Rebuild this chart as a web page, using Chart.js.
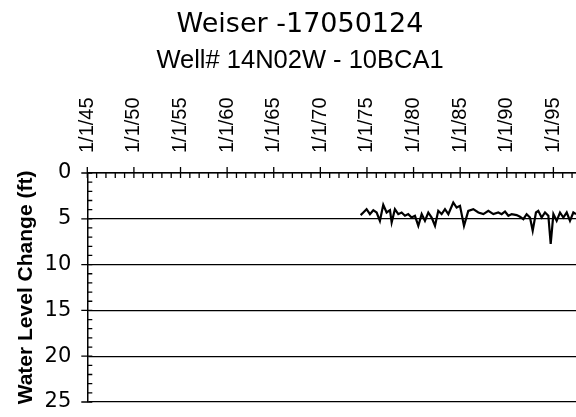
<!DOCTYPE html>
<html>
<head>
<meta charset="utf-8">
<script src="https://cdn.jsdelivr.net/npm/chart.js@4/dist/chart.umd.min.js"></script>
<style>
  html, body { margin: 0; padding: 0; background: #fff; overflow: hidden; }
  #wrap { width: 620px; height: 417px; }
</style>
</head>
<body>
<div id="wrap"><canvas id="grafico" width="620" height="417"></canvas></div>
<script>
// water level readings (decimal year, depth change in ft)
const years = [1974.32, 1974.61, 1974.96, 1975.32, 1975.68, 1976.04, 1976.39, 1976.75, 1977.11, 1977.47,
    1977.65, 1978.0, 1978.36, 1978.72, 1979.08, 1979.43, 1979.79, 1980.15, 1980.51, 1980.87,
    1981.22, 1981.58, 1981.94, 1982.30, 1982.65, 1983.01, 1983.37, 1983.73, 1984.26, 1984.62,
    1984.98, 1985.41, 1985.87, 1986.41, 1986.95, 1987.49, 1988.02, 1988.56, 1989.09, 1989.45,
    1989.81, 1990.17, 1990.53, 1991.06, 1991.42, 1991.78, 1992.13, 1992.49, 1992.78, 1993.13,
    1993.38, 1993.74, 1994.10, 1994.46, 1994.71, 1995.0, 1995.35, 1995.71, 1996.07, 1996.43,
    1996.78, 1997.14, 1997.43];
const levels = [4.60, 4.31, 3.95, 4.49, 4.06, 4.31, 5.22, 3.48, 4.31, 4.06,
    5.40, 3.95, 4.49, 4.31, 4.67, 4.49, 4.86, 4.67, 5.76, 4.49,
    5.22, 4.31, 4.86, 5.76, 4.13, 4.49, 3.95, 4.49, 3.22, 3.77,
    3.59, 5.76, 4.13, 3.95, 4.31, 4.49, 4.13, 4.49, 4.31, 4.49,
    4.20, 4.67, 4.49, 4.60, 4.78, 5.04, 4.49, 4.86, 6.30, 4.31,
    4.13, 4.86, 4.31, 4.67, 7.75, 4.49, 5.22, 4.31, 4.86, 4.31,
    5.22, 4.31, 4.49];

// axis ranges and tick labels
const xMin = 1945, xMax = 2000, xStep = 5;
const yMin = 0, yMax = 25, yStep = 5;
const tickYears = [1945, 1950, 1955, 1960, 1965, 1970, 1975, 1980, 1985, 1990, 1995, 2000];
const tickLabels = ["1/1/45", "1/1/50", "1/1/55", "1/1/60", "1/1/65", "1/1/70", "1/1/75", "1/1/80", "1/1/85", "1/1/90", "1/1/95", "1/1/00"];

const titulo = "Weiser -17050124";
const subtitulo = "Well# 14N02W - 10BCA1";
const yTitulo = "Water Level Change (ft)";

// tick marks: majors cross the axis, minors point inside
const marcas = {
    id: "marcas",
    afterDraw(chart) {
        const ctx = chart.ctx;
        const x = chart.scales.x, y = chart.scales.y;
        const top = chart.chartArea.top, left = chart.chartArea.left;
        ctx.save();
        ctx.strokeStyle = "#000";
        ctx.lineWidth = 1.3;
        ctx.beginPath();
        for (let yr = xMin; yr <= xMax; yr++) {
            const px = x.getPixelForValue(yr);
            const major = yr % xStep === 0;
            ctx.moveTo(px, major ? top - 6 : top);
            ctx.lineTo(px, top + 5);
        }
        for (let v = yMin; v <= yMax; v++) {
            const py = y.getPixelForValue(v);
            const major = v % yStep === 0;
            ctx.moveTo(major ? left - 6 : left, py);
            ctx.lineTo(left + 5, py);
        }
        ctx.stroke();
        ctx.restore();
    }
};

const ctx = document.getElementById("grafico").getContext("2d");
new Chart(ctx, {
    type: "line",
    data: {
        datasets: [{
            data: years.map((yr, i) => ({ x: yr, y: levels[i] })),
            borderColor: "#000",
            borderWidth: 2.2,
            pointRadius: 0,
            tension: 0,
            fill: false
        }]
    },
    options: {
        responsive: false,
        animation: false,
        layout: { padding: { left: 0, right: 20, top: 0, bottom: 15 } },
        plugins: {
            legend: { display: false },
            tooltip: { enabled: false },
            title: {
                display: true,
                text: titulo,
                color: "#000",
                font: { family: "DejaVu Sans", size: 27, weight: "normal", lineHeight: 1.2 },
                padding: { top: 9, bottom: 0 }
            },
            subtitle: {
                display: true,
                text: subtitulo,
                color: "#000",
                font: { family: "Liberation Sans", size: 25.5, weight: "normal", lineHeight: 1.2 },
                padding: { top: 4, bottom: 0 }
            }
        },
        scales: {
            x: {
                type: "linear",
                position: "top",
                min: xMin,
                max: xMax,
                afterBuildTicks: axis => { axis.ticks = tickYears.map(v => ({ value: v })); },
                afterFit: axis => { axis.height = 97; axis.paddingLeft = 0; axis.paddingRight = 0; },
                grid: { display: true, color: "rgba(0,0,0,0)", drawTicks: false },
                border: { display: true, color: "#000", width: 1.5 },
                ticks: {
                    color: "#000",
                    autoSkip: false,
                    minRotation: 90,
                    maxRotation: 90,
                    padding: 20,
                    labelOffset: 24,
                    font: { family: "Liberation Sans", size: 20 },
                    callback: v => tickLabels[tickYears.indexOf(v)]
                }
            },
            y: {
                type: "linear",
                reverse: true,
                min: yMin,
                max: yMax,
                afterFit: axis => { axis.width = 87.3; axis.paddingTop = 0; axis.paddingBottom = 0; },
                grid: { color: "#000", lineWidth: 1.3, drawTicks: false },
                border: { display: true, color: "#000", width: 1.5 },
                ticks: {
                    stepSize: yStep,
                    color: "#000",
                    padding: 16,
                    font: { family: "DejaVu Sans", size: 21 }
                },
                title: {
                    display: true,
                    text: yTitulo,
                    color: "#000",
                    font: { family: "Liberation Sans", size: 21, weight: "bold" },
                    padding: { top: 14, bottom: 0 }
                }
            }
        }
    },
    plugins: [marcas]
});
</script>
</body>
</html>
